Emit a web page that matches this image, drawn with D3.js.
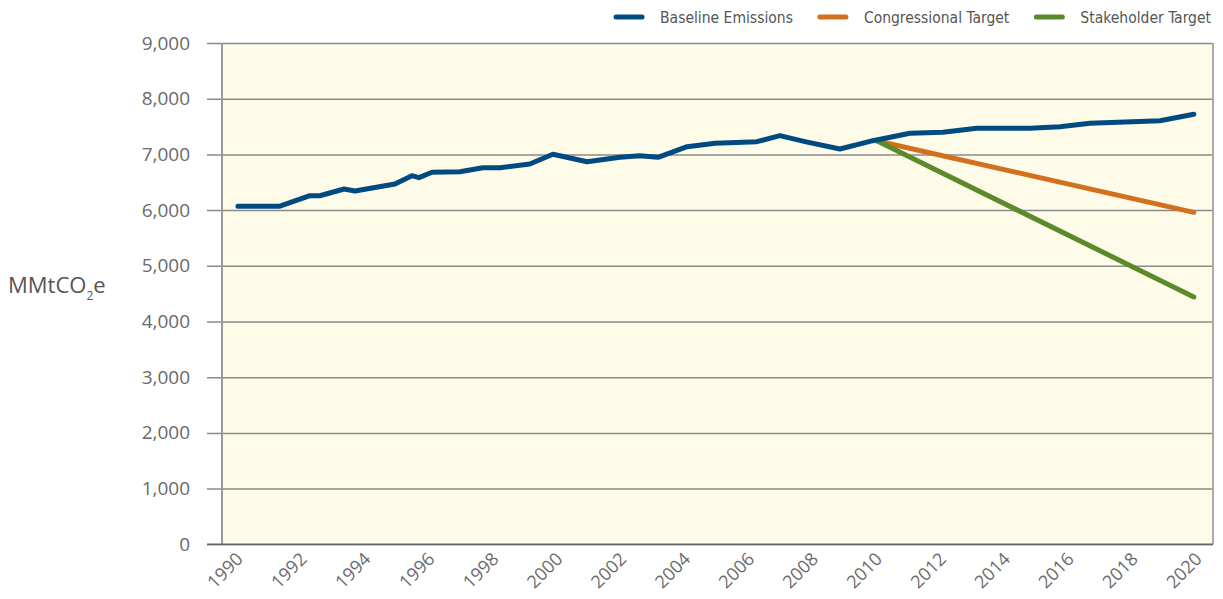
<!DOCTYPE html>
<html>
<head>
<meta charset="utf-8">
<script src="https://cdn.jsdelivr.net/npm/d3@7"></script>
<style>
  body { margin: 0; background: #fff; }
  svg { display: block; }
</style>
</head>
<body>
<svg id="chart"></svg>
<script>
// baseline emissions (year, MMtCO2e)
const baselineYears = [1990, 1991.31, 1992.25, 1992.56, 1993.32, 1993.66, 1994.91, 1995.44, 1995.66, 1996.07,
  1996.94, 1997.66, 1998.19, 1999.13, 1999.85, 2000.92, 2001.95, 2002.57, 2003.14, 2004.05,
  2004.92, 2006.23, 2006.95, 2007.77, 2008.83, 2009.86, 2011.02, 2012.05, 2013.11, 2014.77,
  2015.71, 2016.65, 2018.84, 2019.9];
const baselineValues = [6070, 6070, 6258, 6258, 6379, 6343, 6469, 6618, 6582, 6679,
  6690, 6761, 6761, 6827, 7002, 6869, 6948, 6977, 6948, 7138,
  7199, 7228, 7336, 7226, 7097, 7246, 7379, 7397, 7469, 7469,
  7498, 7558, 7605, 7720];
const targetYears = [2010, 2019.9];
const congressionalValues = [7240, 5960];
const stakeholderValues = [7240, 4440];
const yTicks = [0, 1000, 2000, 3000, 4000, 5000, 6000, 7000, 8000, 9000];
const xTicks = d3.range(1990, 2021, 2);
const seriesNames = ['Baseline Emissions', 'Congressional Target', 'Stakeholder Target'];
const seriesColors = ['#004a82', '#d2701e', '#5b8a2b'];

const width = 1223, height = 599;
const margin = { top: 43, right: 10, bottom: 55, left: 222 };

const svg = d3.select('#chart').attr('width', width).attr('height', height);

const x = d3.scaleLinear()
  .domain([1989.5, 2020.5])
  .range([margin.left, width - margin.right]);

const y = d3.scaleLinear()
  .domain([0, 9000])
  .range([height - margin.bottom + 0.3, margin.top]);

// plot background
svg.append('rect')
  .attr('x', margin.left)
  .attr('y', y(9000))
  .attr('width', x(2020.5) - margin.left)
  .attr('height', y(0) - y(9000))
  .attr('fill', '#fefbe8');

// gridlines + y labels
const yAxis = svg.append('g')
  .attr('transform', `translate(${margin.left},0)`)
  .call(d3.axisLeft(y)
    .tickValues(yTicks)
    .tickSize(-(x(2020.5) - margin.left))
    .tickPadding(32)
    .tickFormat(d3.format(',')));
yAxis.select('.domain').remove();
yAxis.selectAll('.tick line')
  .attr('x1', -15)
  .attr('stroke', '#8a8a8a')
  .attr('stroke-width', 1.5);
yAxis.selectAll('.tick text')
  .attr('fill', '#6a6a6a')
  .style('font-family', '"Open Sans", sans-serif')
  .style('font-size', '19px');

// frame: left, right, bottom
svg.append('line')
  .attr('x1', margin.left).attr('x2', margin.left)
  .attr('y1', y(9000)).attr('y2', y(0))
  .attr('stroke', '#999').attr('stroke-width', 2);
svg.append('line')
  .attr('x1', x(2020.5)).attr('x2', x(2020.5))
  .attr('y1', y(9000)).attr('y2', y(0))
  .attr('stroke', '#aaa').attr('stroke-width', 2);
svg.append('line')
  .attr('x1', margin.left - 15).attr('x2', x(2020.5))
  .attr('y1', y(0)).attr('y2', y(0))
  .attr('stroke', '#666').attr('stroke-width', 1.5);

// x labels (rotated)
svg.append('g')
  .selectAll('text')
  .data(xTicks)
  .join('text')
  .attr('transform', d => `translate(${x(d) + 6},${y(0) + 16}) rotate(-45)`)
  .attr('text-anchor', 'end')
  .attr('fill', '#6a6a6a')
  .style('font-family', '"Open Sans", sans-serif')
  .style('font-size', '18px')
  .text(d => d);

// lines
const line = d3.line().x(d => x(d[0])).y(d => y(d[1]));
const series = [
  d3.zip(baselineYears, baselineValues),
  d3.zip(targetYears, congressionalValues),
  d3.zip(targetYears, stakeholderValues)
];
// draw targets first so the baseline sits on top
[1, 2, 0].forEach(i => {
  svg.append('path')
    .datum(series[i])
    .attr('d', line)
    .attr('fill', 'none')
    .attr('stroke', seriesColors[i])
    .attr('stroke-width', 5)
    .attr('stroke-linecap', 'round')
    .attr('stroke-linejoin', 'round');
});

// y axis title MMtCO2e
const yTitle = svg.append('text')
  .attr('x', 8)
  .attr('y', 293)
  .attr('fill', '#555')
  .style('font-family', '"Open Sans", sans-serif')
  .style('font-size', '22px');
yTitle.append('tspan').text('MMtCO');
yTitle.append('tspan').attr('dy', 7).style('font-size', '12px').text('2');
yTitle.append('tspan').attr('dy', -7).text('e');

// legend, laid out right-to-left from the right edge
const legend = svg.append('g');
let right = 1211;
for (let i = seriesNames.length - 1; i >= 0; i--) {
  const t = legend.append('text')
    .attr('y', 23)
    .attr('text-anchor', 'end')
    .attr('x', right)
    .attr('fill', '#555')
    .style('font-family', '"Liberation Sans Narrow", "DejaVu Sans Condensed", sans-serif')
    .style('font-size', '15.5px')
    .text(seriesNames[i]);
  const w = t.node().getComputedTextLength();
  const lx = right - w - 18;
  legend.append('line')
    .attr('x1', lx - 26).attr('x2', lx)
    .attr('y1', 17).attr('y2', 17)
    .attr('stroke', seriesColors[i])
    .attr('stroke-width', 5)
    .attr('stroke-linecap', 'round');
  right = lx - 26 - 27;
}
</script>
</body>
</html>
